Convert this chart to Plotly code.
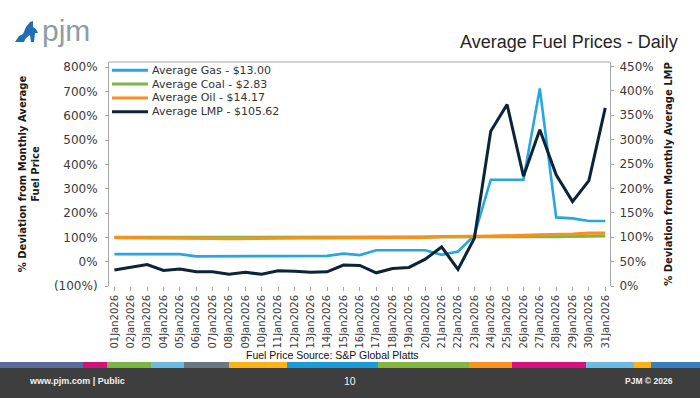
import plotly.graph_objects as go

# ---------------- data ----------------
dates = ["01Jan2026", "02Jan2026", "03Jan2026", "04Jan2026", "05Jan2026", "06Jan2026",
         "07Jan2026", "08Jan2026", "09Jan2026", "10Jan2026", "11Jan2026", "12Jan2026",
         "13Jan2026", "14Jan2026", "15Jan2026", "16Jan2026", "17Jan2026", "18Jan2026",
         "19Jan2026", "20Jan2026", "21Jan2026", "22Jan2026", "23Jan2026", "24Jan2026",
         "25Jan2026", "26Jan2026", "27Jan2026", "28Jan2026", "29Jan2026", "30Jan2026",
         "31Jan2026"]

gas = [31, 31, 31, 31, 31, 22, 22, 22, 21, 21, 21, 21, 21, 24, 33, 27,
       47, 47, 47, 47, 28, 42, 108, 337, 337, 337, 712, 182, 178, 167, 167]
coal = [100, 100, 100, 100, 100, 100, 100, 100, 100, 100, 100, 100, 100, 100, 100, 100,
        100, 100, 100, 100, 101, 101, 101, 101, 102, 102, 103, 103, 104, 106, 106]
oil = [99, 99, 99, 99, 99, 96, 96, 95, 96, 98, 98, 98, 98, 98, 98, 98,
       98, 100, 100, 100, 103, 102, 104, 105, 105, 108, 110, 111, 113, 117, 117]
lmp = [33, 38, 44, 32, 35, 29, 29, 24, 28, 24, 31, 30, 28, 29, 43, 42,
       27, 36, 38, 55, 80, 34, 98, 317, 372, 225, 320, 228, 173, 216, 365]

series_names = ["Average Gas - $13.00", "Average Coal - $2.83",
                "Average Oil - $14.17", "Average LMP - $105.62"]

left_tickvals = [-100, 0, 100, 200, 300, 400, 500, 600, 700, 800]
left_ticktext = ["(100%)", "0%", "100%", "200%", "300%", "400%", "500%", "600%", "700%", "800%"]
right_tickvals = [0, 50, 100, 150, 200, 250, 300, 350, 400, 450]
right_ticktext = ["0%", "50%", "100%", "150%", "200%", "250%", "300%", "350%", "400%", "450%"]

# ---------------- styles ----------------
colors = ["#27a6df", "#7cb844", "#f5921e", "#0c2438"]
widths = [2.6, 3, 3.2, 3]

W, H = 700, 398
PX0, PX1, PY0, PY1 = 109, 610, 62, 286


def px(x):
    return (x - PX0) / (PX1 - PX0)


def py(y):
    return (PY1 - y) / (PY1 - PY0)


fig = go.Figure()
for name, vals, col, w, ax in zip(series_names, [gas, coal, oil, lmp], colors, widths,
                                  ["y", "y", "y", "y2"]):
    fig.add_trace(go.Scatter(x=dates, y=vals, name=name, mode="lines", yaxis=ax,
                             line=dict(color=col, width=w), showlegend=False))

axis_gray = "#a6a6a6"
tick_font = dict(family="DejaVu Sans", size=12, color="#3a3a3a")
title_font = dict(family="DejaVu Sans", size=10, color="#1a1a1a", weight="bold")
sans = "Liberation Sans, Arial, sans-serif"

fig.update_layout(
    width=W, height=H,
    margin=dict(l=PX0, r=W - PX1, t=PY0, b=H - PY1),
    paper_bgcolor="white", plot_bgcolor="white",
    xaxis=dict(type="category", range=[-0.33, 30.29], showgrid=False, zeroline=False,
               showline=False, ticks="outside", ticklen=4, tickcolor=axis_gray,
               tickangle=-90, tickfont=dict(family="DejaVu Sans", size=10, color="#3a3a3a")),
    yaxis=dict(range=[-100, 821], tickvals=left_tickvals, ticktext=left_ticktext,
               showgrid=False, zeroline=False, showline=True, linecolor=axis_gray,
               ticks="outside", ticklen=3, tickcolor=axis_gray, tickfont=tick_font,
               ticklabelstandoff=5,
               title=dict(text="% Deviation from Monthly Average<br>Fuel Price",
                          font=title_font, standoff=12)),
    yaxis2=dict(range=[0, 459], tickvals=right_tickvals, ticktext=right_ticktext,
                overlaying="y", side="right", showgrid=False, zeroline=False,
                showline=True, linecolor=axis_gray, ticks="outside", ticklen=3,
                tickcolor=axis_gray, tickfont=tick_font, ticklabelstandoff=3,
                title=dict(text="% Deviation from Monthly Average LMP",
                           font=title_font, standoff=12)),
)

shapes = []
annotations = []

# top border of plot box
shapes.append(dict(type="line", xref="paper", yref="paper", x0=0, x1=1, y0=1, y1=1,
                   line=dict(color=axis_gray, width=1)))

# custom legend (compact rows as in the reference)
for i, (name, col) in enumerate(zip(series_names, colors)):
    yy = 70.3 + 13.8 * i
    shapes.append(dict(type="line", xref="paper", yref="paper", x0=px(112), x1=px(148),
                       y0=py(yy), y1=py(yy), line=dict(color=col, width=3)))
    annotations.append(dict(text=name, xref="paper", yref="paper", x=px(150), y=py(yy),
                            xanchor="left", yanchor="middle", showarrow=False,
                            font=dict(family="DejaVu Sans", size=11, color="#333333")))

# footer band and stripe
shapes.append(dict(type="rect", xref="paper", yref="paper", x0=px(0), x1=px(700),
                   y0=py(368), y1=py(399), fillcolor="#3e3e3e", line=dict(width=0),
                   layer="below"))
stripe = [(0, 83, "#5b6d9b"), (83, 107, "#d4137a"), (107, 151, "#7db443"),
          (151, 184, "#6dbbe2"), (184, 229, "#6b7781"), (229, 287, "#fbb416"),
          (287, 378, "#1b9cd8"), (378, 469, "#84b642"), (469, 512, "#f7941e"),
          (512, 586, "#d6137b"), (586, 634, "#6cbbe2"), (634, 651, "#fbb416"),
          (651, 700, "#3c7fbf")]
for a, b, c in stripe:
    shapes.append(dict(type="rect", xref="paper", yref="paper", x0=px(a), x1=px(b),
                       y0=py(362), y1=py(368), fillcolor=c, line=dict(width=0),
                       layer="below"))

# logo icon
icon = [(15, 42), (19, 36), (23, 34), (26, 27), (30, 22), (33, 21), (33, 27),
        (36, 29), (38, 33), (35, 33), (34, 42), (31, 42), (30, 35), (26, 38), (24, 42)]
path = "M " + " L ".join(f"{px(x):.5f},{py(y):.5f}" for x, y in icon) + " Z"
shapes.append(dict(type="path", xref="paper", yref="paper", path=path,
                   fillcolor="#1f6fb2", line=dict(width=0)))

annotations += [
    dict(text="pjm", x=px(40), y=py(31), xanchor="left", yanchor="middle",
         font=dict(family=sans, size=30, color="#8e9ca7")),
    dict(text="Average Fuel Prices - Daily", x=px(680), y=py(42), xanchor="right",
         yanchor="middle", font=dict(family=sans, size=18, color="#262626")),
    dict(text="Fuel Price Source: S&P Global Platts", x=px(332), y=py(355),
         xanchor="center", yanchor="middle",
         font=dict(family=sans, size=10.5, color="#111111")),
    dict(text="www.pjm.com | Public", x=px(27), y=py(381), xanchor="left",
         yanchor="middle", font=dict(family=sans, size=9, color="#f2f2f2", weight="bold")),
    dict(text="10", x=px(350), y=py(381), xanchor="center", yanchor="middle",
         font=dict(family=sans, size=10.5, color="#f2f2f2")),
    dict(text="PJM © 2026", x=px(675), y=py(381), xanchor="right", yanchor="middle",
         font=dict(family=sans, size=8.5, color="#f2f2f2", weight="bold")),
]
for a in annotations[4:]:
    a.update(xref="paper", yref="paper", showarrow=False)

fig.update_layout(shapes=shapes, annotations=annotations)
fig.write_html("out.html", config={"displayModeBar": False},
               post_script="document.body.style.margin='0';document.body.style.overflow='hidden';")
